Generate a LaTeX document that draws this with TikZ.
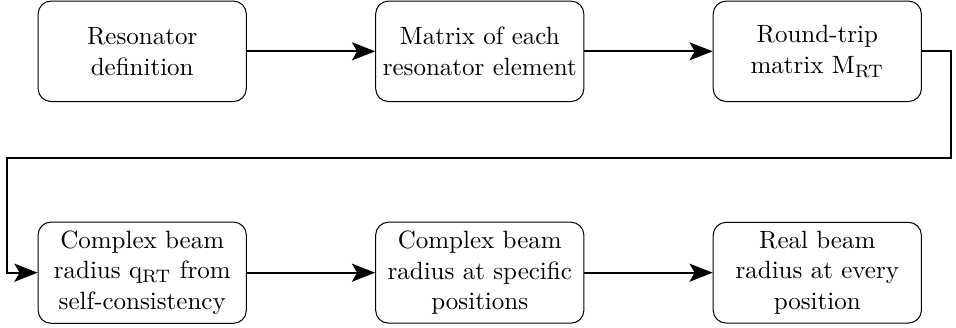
\documentclass[tikz,border=0pt]{standalone}
\usepackage{amsmath}
\usepackage{amssymb}
\usetikzlibrary{positioning,arrows.meta}

\begin{document}
\begin{tikzpicture}[
        block/.style={draw, rounded corners=5pt, align=center, inner xsep=1pt,
            font=\fontsize{9.7pt}{11.9pt}\selectfont,
            minimum width=2.84cm, minimum height=1.37cm, line width=0.4pt},
        flow/.style={-{Stealth[length=9pt,width=7pt,inset=2pt]}, line width=0.8pt},
        node distance=1.63cm and 1.75cm]
        \useasboundingbox (-1.94,0.70) rectangle (11.10,-3.77);
        \node[block] (def) {Resonator\\definition};
        \node[block, right=of def] (elem) {Matrix of each\\resonator element};
        \node[block, right=of elem] (mrt) {Round-trip\\matrix M$_\mathrm{RT}$};
        \node[block, below=of def] (qrt) {Complex beam\\radius q$_\mathrm{RT}$ from\\self-consistency};
        \node[block, right=of qrt] (qpos) {Complex beam\\radius at specific\\positions};
        \node[block, right=of qpos] (wpos) {Real beam\\radius at every\\position};
        \draw[flow] (def) -- (elem);
        \draw[flow] (elem) -- (mrt);
        % feedback loop round the right side and back to the left
        \draw[flow] (mrt.east) -- ++(0.40,0) -- ++(0,-1.46) -| ([xshift=-0.42cm]qrt.west) -- (qrt.west);
        \draw[flow] (qrt) -- (qpos);
        \draw[flow] (qpos) -- (wpos);
\end{tikzpicture}
\end{document}
